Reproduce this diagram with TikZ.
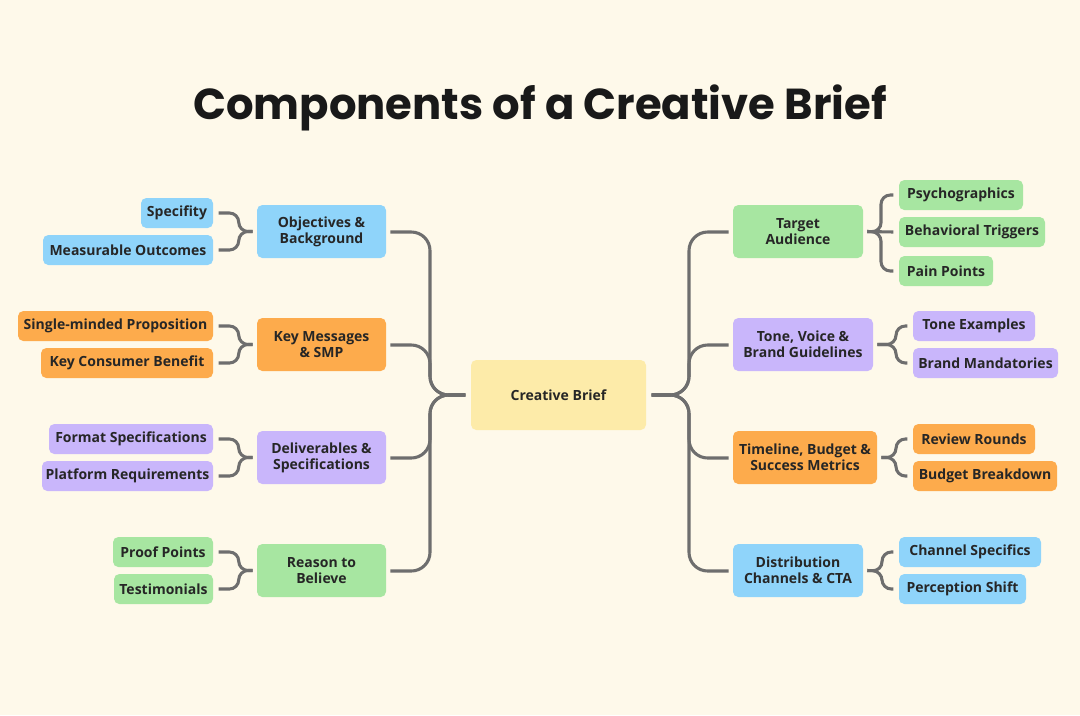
\documentclass[tikz,border=0pt]{standalone}
\usepackage{fontspec}
\setmainfont{Open Sans}
\newfontfamily\titlefont{Poppins}
\definecolor{bg}{HTML}{FEF9EA}
\definecolor{cblue}{HTML}{8FD4FA}
\definecolor{corange}{HTML}{FDAB4C}
\definecolor{cpurple}{HTML}{C9B6FB}
\definecolor{cgreen}{HTML}{A7E6A1}
\definecolor{cyellow}{HTML}{FDEBA9}
\definecolor{lineg}{HTML}{6E6E6E}
\tikzset{
 box/.style={draw=none,rounded corners=4pt,align=center,font=\fontsize{10.5}{12}\selectfont\bfseries,inner sep=0pt,text=black!85},
 conn/.style={draw=lineg,line width=2.3pt,rounded corners=14pt},
 brace/.style={draw=lineg,line width=2.3pt,rounded corners=7pt},
}
\newcommand{\bx}[7]{\node[box,fill=#6,minimum width={(#3-#2)*0.75pt},minimum height={(#5-#4)*0.75pt}] (#1) at ({(#2+#3)/2},{(#4+#5)/2}) {#7};}
\begin{document}
\begin{tikzpicture}[x=0.75pt,y=-0.75pt]
\fill[bg] (0,0) rectangle (1080,715);
\useasboundingbox (0,0) rectangle (1080,715);
\node[font=\titlefont\fontsize{32.5}{36}\selectfont\bfseries,text=black!90] (title) at (540,108) {Components of a Creative Brief};
\bx{cb}{471}{646}{360}{430}{cyellow}{Creative Brief}
% left mains
\bx{l1}{257}{386}{205}{258}{cblue}{Objectives \&\\Background}
\bx{l2}{257}{386}{318}{371}{corange}{Key Messages\\\& SMP}
\bx{l3}{257}{386}{431}{484}{cpurple}{Deliverables \&\\Specifications}
\bx{l4}{257}{386}{544}{597}{cgreen}{Reason to\\Believe}
% right mains
\bx{r1}{733}{863}{205}{258}{cgreen}{Target\\Audience}
\bx{r2}{733}{873}{318}{371}{cpurple}{Tone, Voice \&\\Brand Guidelines}
\bx{r3}{733}{877}{431}{484}{corange}{Timeline, Budget \&\\Success Metrics}
\bx{r4}{733}{863}{544}{597}{cblue}{Distribution\\Channels \& CTA}
% left leaves
\bx{a1}{141}{213}{198}{228}{cblue}{Specifity}
\bx{a2}{43}{213}{235}{265}{cblue}{Measurable Outcomes}
\bx{b1}{18}{213}{311}{341}{corange}{Single-minded Proposition}
\bx{b2}{41}{213}{348}{378}{corange}{Key Consumer Benefit}
\bx{c1}{49}{213}{424}{454}{cpurple}{Format Specifications}
\bx{c2}{42}{213}{461}{491}{cpurple}{Platform Requirements}
\bx{d1}{113}{213}{537}{567}{cgreen}{Proof Points}
\bx{d2}{114}{213}{574}{604}{cgreen}{Testimonials}
% right leaves
\bx{e1}{899}{1023}{180}{210}{cgreen}{Psychographics}
\bx{e2}{899}{1045}{217}{247}{cgreen}{Behavioral Triggers}
\bx{e3}{899}{993}{256}{286}{cgreen}{Pain Points}
\bx{f1}{913}{1035}{311}{341}{cpurple}{Tone Examples}
\bx{f2}{913}{1058}{348}{378}{cpurple}{Brand Mandatories}
\bx{g1}{913}{1035}{424}{454}{corange}{Review Rounds}
\bx{g2}{913}{1057}{461}{491}{corange}{Budget Breakdown}
\bx{h1}{899}{1041}{537}{567}{cblue}{Channel Specifics}
\bx{h2}{899}{1026}{574}{604}{cblue}{Perception Shift}
% trunk connectors
\foreach \n/\yy in {l1/232,l2/345,l3/458,l4/571}{
 \draw[conn] ([xshift=-4pt]cb.west) -- (430,395) -- (430,\yy) -- ([xshift=3pt]\n.east |- 0,\yy);}
\foreach \n/\yy in {r1/232,r2/345,r3/458,r4/571}{
 \draw[conn] ([xshift=4pt]cb.east) -- (689,395) -- (689,\yy) -- ([xshift=-3pt]\n.west |- 0,\yy);}
% left braces
\foreach \m/\p/\q in {l1/a1/a2,l2/b1/b2,l3/c1/c2,l4/d1/d2}{
 \draw[brace] ([xshift=-3pt]\m.west) -- ++(-14,0) |- ([xshift=4pt]\p.east);
 \draw[brace] ([xshift=-3pt]\m.west) -- ++(-14,0) |- ([xshift=4pt]\q.east);}
% right braces
\foreach \m/\p/\q in {r2/f1/f2,r3/g1/g2}{
 \draw[brace] ([xshift=3pt]\m.east) -- (896,0 |- \m.east) |- ([xshift=-4pt]\p.west);
 \draw[brace] ([xshift=3pt]\m.east) -- (896,0 |- \m.east) |- ([xshift=-4pt]\q.west);}
\draw[brace] ([xshift=3pt]r4.east) -- (882,571) |- ([xshift=-4pt]h1.west);
\draw[brace] ([xshift=3pt]r4.east) -- (882,571) |- ([xshift=-4pt]h2.west);
\draw[brace] ([xshift=3pt]r1.east) -- (881,232) |- ([xshift=-4pt]e1.west);
\draw[brace] ([xshift=3pt]r1.east) -- ([xshift=-4pt]e2.west);
\draw[brace] ([xshift=3pt]r1.east) -- (881,232) |- ([xshift=-4pt]e3.west);
\end{tikzpicture}
\end{document}
